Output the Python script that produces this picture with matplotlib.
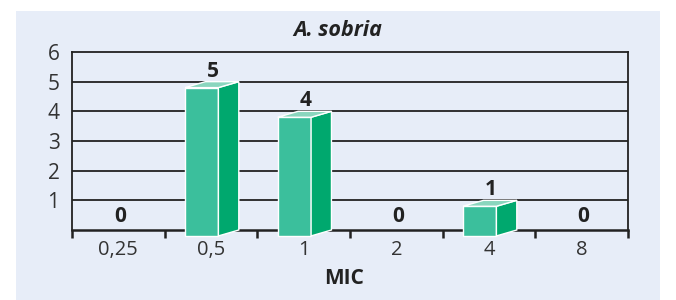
import matplotlib.pyplot as plt
from matplotlib.patches import Polygon, Rectangle

plt.rcParams['font.family'] = ['Open Sans', 'DejaVu Sans']

# data
categories = ['0,25', '0,5', '1', '2', '4', '8']
values = [0, 5, 4, 0, 1, 0]

front_color = '#3bbf9c'
side_color = '#00a86e'
top_color = '#8ad6be'

fig = plt.figure(figsize=(6.76, 3.0), dpi=100)
fig.patch.set_facecolor('white')
# light blue panel behind the chart
fig.patches.append(Rectangle((0.0237, 0), 0.9526, 1 - 11 / 300, transform=fig.transFigure,
                             facecolor='#e7edf8', edgecolor='none', zorder=-5))

ax = fig.add_axes([72 / 676, 1 - 230 / 300, 556 / 676, 178 / 300])
ax.set_zorder(2)
ax.set_facecolor('none')
ax.set_xlim(-0.5, len(categories) - 0.5)
ax.set_ylim(0, 6)

# horizontal grid lines
for y in range(1, 6):
    ax.axhline(y, color='#222222', lw=1.3, zorder=1)

for s in ['left', 'right', 'top']:
    ax.spines[s].set_color('#222222')
    ax.spines[s].set_linewidth(1.3)
ax.spines['bottom'].set_color('#222222')
ax.spines['bottom'].set_linewidth(1.8)

# 3D-looking bars
x0, x1, dx, dy = -0.28, 0.08, 0.22, 0.2
for i, v in enumerate(values):
    if v > 0:
        front = Rectangle((i + x0, -dy), x1 - x0, v, facecolor=front_color,
                          edgecolor='white', lw=1.0, zorder=4, clip_on=False)
        side = Polygon([(i + x1, -dy), (i + x1 + dx, 0), (i + x1 + dx, v), (i + x1, v - dy)],
                       facecolor=side_color, edgecolor='white', lw=1.0, zorder=4, clip_on=False)
        top = Polygon([(i + x0, v - dy), (i + x1, v - dy), (i + x1 + dx, v), (i + x0 + dx, v)],
                      facecolor=top_color, edgecolor='white', lw=1.0, zorder=4, clip_on=False)
        ax.add_patch(front)
        ax.add_patch(side)
        ax.add_patch(top)
        off = 0
    else:
        off = 2
    ax.annotate(str(v), (i + 0.02, v), xytext=(0, off), textcoords='offset points',
                ha='center', va='bottom', fontsize=15, fontweight='bold', color='#222222',
                zorder=5)

# ticks: marks between categories, labels at centers
ax.set_xticks([i - 0.5 for i in range(len(categories) + 1)])
ax.set_xticklabels([])
ax.set_xticks(range(len(categories)), minor=True)
ax.set_xticklabels(categories, minor=True, fontsize=14.5, color='#333333')
ax.tick_params(axis='x', which='major', direction='out', length=6, width=1.8, color='#222222')
ax.tick_params(axis='x', which='minor', length=0, pad=7)
ax.set_yticks(range(1, 7))
ax.set_yticklabels([str(y) for y in range(1, 7)], fontsize=15, color='#333333')
ax.tick_params(axis='y', length=0, pad=9)

fig.text(338 / 676, 1 - 30 / 300, 'A. sobria', ha='center', va='center', fontsize=15.5,
         fontweight='bold', fontstyle='italic', color='#222222')
fig.text(344 / 676, 1 - 279 / 300, 'MIC', ha='center', va='center', fontsize=15,
         fontweight='bold', color='#222222')

fig.savefig('out.png', dpi=100)
